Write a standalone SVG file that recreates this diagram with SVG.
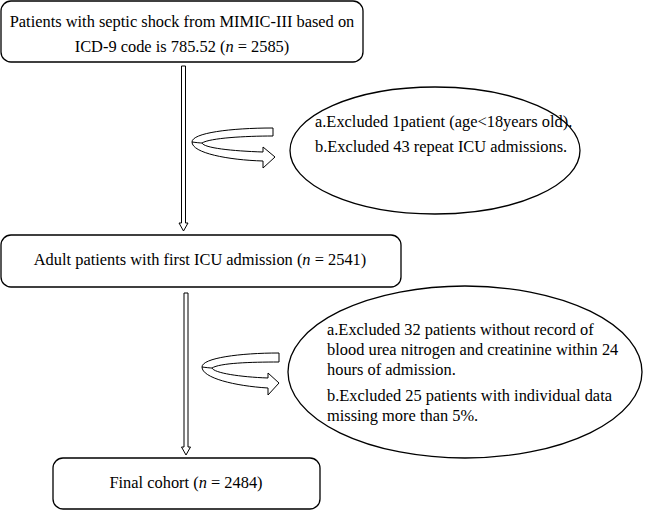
<svg xmlns="http://www.w3.org/2000/svg" width="648" height="511" viewBox="0 0 648 511">
<style>
.box{fill:#fff;stroke:#000;stroke-width:1.3}
.t{font-family:"Liberation Serif",serif;font-size:16.4px;fill:#000}
.c{text-anchor:middle}
.conn{fill:#fff;stroke:#000;stroke-width:1}
</style>
<rect width="648" height="511" fill="#fff"/>
<g id="node-start">
<rect class="box" x="1" y="1" width="362" height="61" rx="10"/>
<text class="t c" x="182" y="27">Patients with septic shock from MIMIC-III based on</text>
<text class="t c" x="182" y="52">ICD-9 code is 785.52 (<tspan font-style="italic">n</tspan> = 2585)</text>
</g>
<g id="node-excl1">
<ellipse class="box" cx="435" cy="150.5" rx="145" ry="63.5"/>
<text class="t" x="315" y="127">a.Excluded 1patient (age&lt;18years old).</text>
<text class="t" x="315" y="152">b.Excluded 43 repeat ICU admissions.</text>
</g>
<g id="node-adult">
<rect class="box" x="1" y="235" width="400" height="52" rx="10"/>
<text class="t c" x="200" y="265">Adult patients with first ICU admission (<tspan font-style="italic">n</tspan> = 2541)</text>
</g>
<g id="node-excl2">
<ellipse class="box" cx="465" cy="372" rx="177" ry="86"/>
<text class="t" x="327" y="335">a.Excluded 32 patients without record of</text>
<text class="t" x="327" y="355">blood urea nitrogen and creatinine within 24</text>
<text class="t" x="327" y="375">hours of admission.</text>
<text class="t" x="327" y="401">b.Excluded 25 patients with individual data</text>
<text class="t" x="327" y="421">missing more than 5%.</text>
</g>
<g id="node-final">
<rect class="box" x="53" y="458" width="267" height="51" rx="10"/>
<text class="t c" x="186" y="488">Final cohort (<tspan font-style="italic">n</tspan> = 2484)</text>
</g>
<g id="connectors">
<path class="conn" d="M181.5,66 L185.5,66 L185.5,223 L188,223 L183.5,231 L179,223 L181.5,223 Z"/>
<path class="conn" d="M184,293 L188,293 L188,447 L190.5,447 L186,455 L181.5,447 L184,447 Z"/>
<path class="conn" d="M273,128 C230,128 192,133 192,142 C192,153 228,160 263,161 L263,168 L275,157 L263,147 L263,152 C232,151 204,148 202,143 C210,138 245,136 273,136 Z"/>
<path class="conn" d="M202,143 C200,143 196,142.5 192,142" fill="none"/>
<path class="conn" d="M279,353 C240,353 202,358 202,367 C202,378 235,386 268,388 L268,395 L279,383 L268,373 L268,378 C240,377 214,373 212,368 C220,363 250,362 279,362 Z"/>
<path class="conn" d="M212,368 C210,368 206,367.5 202,367" fill="none"/>
</g>
</svg>
